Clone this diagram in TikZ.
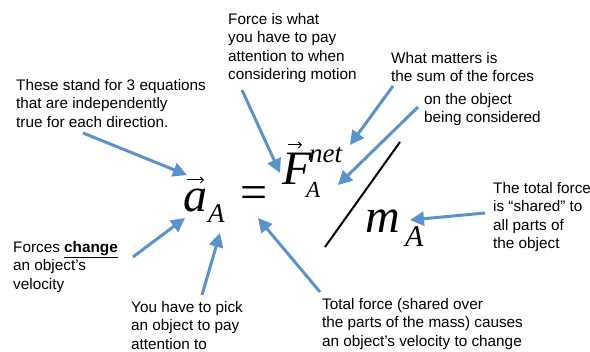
\documentclass[tikz,border=0pt]{standalone}
\usepackage{fontspec}
\setmainfont{Liberation Sans}
\newfontfamily\eqfont{Liberation Serif}
\usetikzlibrary{arrows.meta}
\definecolor{callblue}{HTML}{5A92CA}

\begin{document}
\begin{tikzpicture}[x=1pt, y=-1pt,
    note/.style={anchor=north west, align=left, inner sep=0pt, font=\fontsize{15.3}{18.5}\selectfont},
    sym/.style={anchor=base west, inner sep=0pt, font=\eqfont\itshape\fontsize{48}{48}\selectfont},
    idx/.style={anchor=base west, inner sep=0pt, font=\eqfont\itshape\fontsize{27}{27}\selectfont},
    callout/.style={-{Triangle[length=14pt,width=14pt]}, line width=3pt, callblue},
    vecarrow/.style={-{Straight Barb[length=3pt]}, line width=1pt}]
  \useasboundingbox (0,0) rectangle (590,352);

  % the equation
  \node[sym] (a) at (183,212) {a};
  \node[idx] (aA) at (208,223) {A};
  \node[inner sep=0pt, font=\eqfont\fontsize{48}{48}\selectfont] (eq) at (254,197.5) {=};
  \node[sym] (F) at (282,185) {F};
  \node[idx] (net) at (309,163) {net};
  \node[idx, font=\eqfont\itshape\fontsize{23}{23}\selectfont] (FA) at (306,198) {A};
  \node[sym] (m) at (365,233) {m};
  \node[idx, font=\eqfont\itshape\fontsize{30}{30}\selectfont] (mA) at (405,247) {A};
  \coordinate (slashtop) at (400,142);
  \coordinate (slashbot) at (325,247);
  \draw[line width=2pt] (slashtop) -- (slashbot);
  \draw[vecarrow] (187,180) -- (204,180);
  \draw[vecarrow] (288,145) -- (302,145);

  % the notes
  \node[note] (eqs) at (16,79) {These stand for 3 equations\\that are independently\\true for each direction.};
  \node[note] (attn) at (228,13) {Force is what\\you have to pay\\attention to when\\considering motion};
  \node[note] (sum) at (391,52) {What matters is\\the sum of the forces};
  \node[note] (obj) at (424,93) {on the object\\being considered};
  \node[note] (shared) at (493,182) {The total force\\is “shared” to\\all parts of\\the object};
  \node[note] (change) at (13,241) {Forces \underline{\textbf{change}}\\an object's\\velocity};
  \node[note] (pick) at (131,301) {You have to pick\\an object to pay\\attention to};
  \node[note] (total) at (322,298) {Total force (shared over\\the parts of the mass) causes\\an object's velocity to change};

  % arrow ends
  \coordinate (eqs-t) at (83,133);   \coordinate (eqs-h) at (187,175);
  \coordinate (attn-t) at (242,90);  \coordinate (attn-h) at (280,173);
  \coordinate (sum-t) at (393,86);   \coordinate (sum-h) at (350,145);
  \coordinate (obj-t) at (418,107);  \coordinate (obj-h) at (338,185);
  \coordinate (shared-t) at (485,213); \coordinate (shared-h) at (410,220);
  \coordinate (change-t) at (133,257); \coordinate (change-h) at (185,218);
  \coordinate (pick-t) at (202,295); \coordinate (pick-h) at (220,233);
  \coordinate (total-t) at (320,292); \coordinate (total-h) at (258,218);

  \draw[callout] (eqs-t) -- (eqs-h);
  \draw[callout] (attn-t) -- (attn-h);
  \draw[callout] (sum-t) -- (sum-h);
  \draw[callout] (obj-t) -- (obj-h);
  \draw[callout] (shared-t) -- (shared-h);
  \draw[callout] (change-t) -- (change-h);
  \draw[callout] (pick-t) -- (pick-h);
  \draw[callout] (total-t) -- (total-h);
\end{tikzpicture}
\end{document}
